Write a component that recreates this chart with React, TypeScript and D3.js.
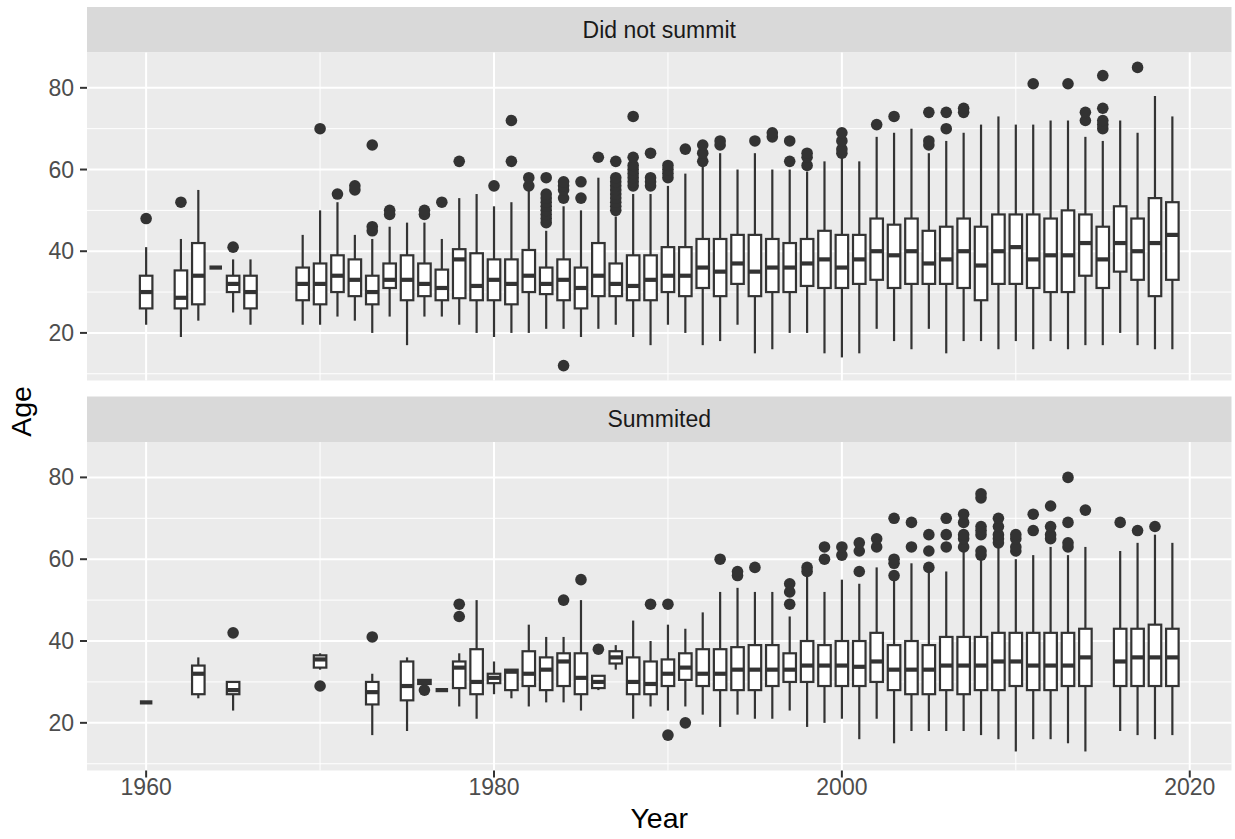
import React from 'react';
import * as d3 from 'd3';

// ---- data: "Did not summit" panel ----
const yearsNS = [1960, 1962, 1963, 1964, 1965, 1966, 1969, 1970, 1971, 1972, 1973, 1974, 1975, 1976, 1977, 1978, 1979,
  1980, 1981, 1982, 1983, 1984, 1985, 1986, 1987, 1988, 1989, 1990, 1991, 1992, 1993, 1994, 1995, 1996, 1997, 1998, 1999,
  2000, 2001, 2002, 2003, 2004, 2005, 2006, 2007, 2008, 2009, 2010, 2011, 2012, 2013, 2014, 2015, 2016, 2017, 2018, 2019];
const lowNS = [22, 19, 23, 36, 25, 22, 22, 22, 24, 23, 20, 24, 17, 24, 24, 22, 20,
  19, 20, 20, 21, 21, 19, 21, 22, 19, 17, 22, 20, 17, 18, 22, 15, 16, 20, 20, 15,
  14, 15, 21, 18, 16, 21, 15, 18, 18, 16, 18, 16, 18, 16, 17, 17, 20, 17, 16, 16];
const q1NS = [26, 26, 27, 36, 30, 26, 28, 27, 30, 29, 27, 31, 28, 29, 28, 28.5, 28,
  28, 27, 30, 29.5, 28, 26, 29, 29, 28, 28, 30, 29, 31, 29, 32, 29, 30, 30, 31.5, 31,
  31, 32, 33, 31, 32, 32, 32, 31, 28, 32, 32, 31, 30, 30, 34, 31, 35, 33, 29, 33];
const medNS = [30, 28.6, 34, 36, 32, 30, 32, 32, 34, 33, 30, 33, 33, 32, 31, 38, 31.5,
  33, 32, 34, 32, 33, 31, 34, 32, 31.5, 33, 34, 34, 36, 35, 37, 35, 36, 36, 37, 38,
  36, 38, 40, 39, 40, 37, 38, 40, 36.5, 40, 41, 38, 39, 39, 42, 38, 42, 40, 42, 44];
const q3NS = [34, 35.3, 42, 36, 34, 34, 36, 37, 39, 38, 34, 37, 39, 37, 35.5, 40.5, 39.5,
  38, 38, 40.3, 36, 38, 36, 42, 37, 39, 39, 41, 41, 43, 43, 44, 44, 43, 42, 43, 45,
  44, 44, 48, 46.5, 48, 45, 46, 48, 46, 49, 49, 49, 48, 50, 49, 46, 51, 48, 53, 52];
const highNS = [41, 43, 55, 36, 38, 38, 44, 50, 52, 44, 43, 46, 47, 47, 43, 53, 54,
  51, 52, 55, 45, 51, 50, 58, 48.5, 54, 54, 56, 59, 61, 64, 60, 64, 60, 60, 59.5, 62,
  63, 62, 68, 69, 70, 64, 67, 69, 71, 73, 71, 71, 72, 72, 68, 67, 72, 69, 78, 73];
const outNS = [[48], [52], [], [], [41], [], [], [70], [54], [55, 56], [45, 46, 66], [49, 50], [], [49, 50], [52], [62], [],
  [56], [62, 72], [56, 58], [47, 48, 49, 50, 51, 52, 53, 54, 58], [12, 53, 55, 56, 57], [53, 57], [63],
  [50, 51, 52, 53, 54, 55, 56, 57, 58, 62], [56, 57, 58, 59, 60, 61, 63, 73], [56, 57, 58, 64], [58, 59, 60, 61], [65],
  [62, 64, 66], [66, 67], [], [67], [68, 69], [62, 67], [61, 63, 64], [],
  [64, 65, 67, 69], [], [71], [73], [], [66, 67, 74], [70, 74], [74, 75], [], [], [], [81], [], [81], [72, 74],
  [70, 71, 72, 75, 83], [], [85], [], []];

// ---- data: "Summited" panel ----
const yearsS = [1960, 1963, 1965, 1970, 1973, 1975, 1976, 1977, 1978, 1979, 1980, 1981, 1982, 1983, 1984, 1985, 1986,
  1987, 1988, 1989, 1990, 1991, 1992, 1993, 1994, 1995, 1996, 1997, 1998, 1999, 2000, 2001, 2002, 2003, 2004, 2005,
  2006, 2007, 2008, 2009, 2010, 2011, 2012, 2013, 2014, 2016, 2017, 2018, 2019];
const lowS = [25, 26, 23, 33, 17, 18, 29.5, 28, 24, 21, 27, 26, 24, 25, 25, 23, 28,
  33, 21, 24, 23, 24, 22, 19, 22, 21, 21, 23, 19, 20, 21, 16, 21, 15, 18, 18,
  18, 18, 17, 16, 13, 16, 16, 15, 13, 18, 17, 16, 17];
const q1S = [25, 27, 27, 33.5, 24.5, 25.5, 29.5, 28, 28.5, 27, 29.7, 28, 29, 28, 29, 27, 28.5,
  34.5, 27, 27, 29, 30.5, 29, 28, 28, 28, 29, 30, 30, 29, 29, 29, 30, 28, 27, 27,
  28, 27, 28, 28, 29, 28, 28, 29, 29, 29, 29, 29, 29];
const medS = [25, 32, 28, 35.5, 27.5, 29, 30, 28, 33.5, 30, 31, 32.5, 32, 33, 35, 31, 30,
  36, 30, 29.5, 32, 33.5, 32, 32, 33, 33, 33, 33, 34, 34, 34, 33.7, 35, 33, 33, 33,
  34, 34, 34, 35, 35, 34, 34, 34, 36, 35, 36, 36, 36];
const q3S = [25, 34, 30, 36.5, 30, 35, 30.5, 28, 35, 38, 32, 33, 37.5, 36, 37, 37, 31.5,
  37.5, 36, 35, 35.5, 37, 38, 38, 38.5, 39, 39, 37, 40, 39, 40, 40, 42, 39, 40, 39,
  41, 41, 41, 42, 42, 42, 42, 42, 43, 43, 43, 44, 43];
const highS = [25, 36, 30, 37, 32, 36, 30.5, 28, 37, 50, 35, 33, 44, 41, 41, 50, 31.5,
  39, 45, 40, 44, 43, 47, 52, 53, 52, 52, 46, 56, 52, 55, 54, 58, 55, 59, 57,
  57, 62, 60, 63, 60, 61, 63, 61, 63, 62, 64, 66, 64];
const outS = [[], [], [42], [29], [41], [], [28], [], [46, 49], [], [], [], [], [], [50], [55], [38],
  [], [], [49], [17, 49], [20], [], [60], [56, 57], [58], [], [49, 52, 54], [57, 58], [60, 63], [61, 63],
  [57, 62, 64], [63, 65], [56, 59, 60, 70], [63, 69], [58, 62, 66],
  [63, 66, 70], [63, 65, 66, 69, 71], [61, 62, 66, 67, 68, 75, 76], [64, 65, 66, 68, 70], [62, 63, 65, 66],
  [67, 71], [65, 66, 68, 73], [63, 64, 69, 80], [72], [69], [67], [68], []];

const facetLabels = ['Did not summit', 'Summited'];
const xTicks = [1960, 1980, 2000, 2020];
const xMinor = [1970, 1990, 2010];
const yTicks = [20, 40, 60, 80];
const yMinor = [10, 30, 50, 70];

const W = 1235;
const H = 839;
const panelLeft = 87;
const panelRight = 1231.5;
const panels = [
  { stripTop: 7, top: 52.5, bottom: 380.5 },
  { stripTop: 396.5, top: 442, bottom: 770.5 },
];
const FONT = '"Liberation Sans", Arial, Helvetica, sans-serif';
const ink = '#333333';
const boxHalf = 0.36;
const smallSize = 23;
const titleSize = 28.5;

const x = d3.scaleLinear().domain([1956.6, 2022.4]).range([panelLeft, panelRight]);

function buildBoxes(years, low, q1, med, q3, high, outs) {
  return years.map((yr, i) => ({ year: yr, low: low[i], q1: q1[i], med: med[i], q3: q3[i], high: high[i], out: outs[i] }));
}

const panelData = [
  buildBoxes(yearsNS, lowNS, q1NS, medNS, q3NS, highNS, outNS),
  buildBoxes(yearsS, lowS, q1S, medS, q3S, highS, outS),
];

const Panel = ({ idx }) => {
  const p = panels[idx];
  const y = d3.scaleLinear().domain([8.35, 88.65]).range([p.bottom, p.top]);
  const boxes = panelData[idx];
  return (
    <g>
      <rect x={panelLeft} y={p.stripTop} width={panelRight - panelLeft} height={p.top - p.stripTop} fill="#D9D9D9" />
      <text x={(panelLeft + panelRight) / 2} y={(p.stripTop + p.top) / 2} dy="0.35em" textAnchor="middle"
        fontSize={smallSize} fill="#1A1A1A" fontFamily={FONT}>{facetLabels[idx]}</text>
      <rect x={panelLeft} y={p.top} width={panelRight - panelLeft} height={p.bottom - p.top} fill="#EBEBEB" />
      {yMinor.map(v => (
        <line key={'ym' + v} x1={panelLeft} x2={panelRight} y1={y(v)} y2={y(v)} stroke="#fff" strokeWidth={1} />
      ))}
      {xMinor.map(v => (
        <line key={'xm' + v} x1={x(v)} x2={x(v)} y1={p.top} y2={p.bottom} stroke="#fff" strokeWidth={1} />
      ))}
      {yTicks.map(v => (
        <line key={'yM' + v} x1={panelLeft} x2={panelRight} y1={y(v)} y2={y(v)} stroke="#fff" strokeWidth={2} />
      ))}
      {xTicks.map(v => (
        <line key={'xM' + v} x1={x(v)} x2={x(v)} y1={p.top} y2={p.bottom} stroke="#fff" strokeWidth={2} />
      ))}
      {boxes.map(b => {
        const x0 = x(b.year - boxHalf);
        const x1 = x(b.year + boxHalf);
        const cx = x(b.year);
        return (
          <g key={b.year}>
            <line x1={cx} x2={cx} y1={y(b.q3)} y2={y(b.high)} stroke={ink} strokeWidth={2.2} />
            <line x1={cx} x2={cx} y1={y(b.q1)} y2={y(b.low)} stroke={ink} strokeWidth={2.2} />
            <rect x={x0} y={y(b.q3)} width={x1 - x0} height={Math.max(0, y(b.q1) - y(b.q3))}
              fill="#fff" stroke={ink} strokeWidth={2.2} />
            <line x1={x0} x2={x1} y1={y(b.med)} y2={y(b.med)} stroke={ink} strokeWidth={4.2} />
            {b.out.map((o, j) => (
              <circle key={j} cx={cx} cy={y(o)} r={5.8} fill={ink} />
            ))}
          </g>
        );
      })}
      {yTicks.map(v => (
        <g key={'yt' + v}>
          <line x1={panelLeft - 7} x2={panelLeft} y1={y(v)} y2={y(v)} stroke={ink} strokeWidth={2} />
          <text x={panelLeft - 13} y={y(v)} dy="0.35em" textAnchor="end" fontSize={smallSize} fill="#4D4D4D"
            fontFamily={FONT}>{v}</text>
        </g>
      ))}
    </g>
  );
};

export default function App() {
  const bottom = panels[1].bottom;
  return (
    <div style={{ position: 'absolute', left: 0, top: 0 }}>
      <svg width={W} height={H} style={{ display: 'block', background: '#fff' }}>
        <Panel idx={0} />
        <Panel idx={1} />
        {xTicks.map(v => (
          <g key={'xt' + v}>
            <line x1={x(v)} x2={x(v)} y1={bottom} y2={bottom + 7} stroke={ink} strokeWidth={2} />
            <text x={x(v)} y={bottom + 24} textAnchor="middle" fontSize={smallSize} fill="#4D4D4D"
              fontFamily={FONT}>{v}</text>
          </g>
        ))}
        <text x={(panelLeft + panelRight) / 2} y={828} textAnchor="middle" fontSize={titleSize} fill="#000"
          fontFamily={FONT}>Year</text>
        <text transform={`translate(31,${(panels[0].top + bottom) / 2}) rotate(-90)`} textAnchor="middle"
          fontSize={titleSize} fill="#000" fontFamily={FONT}>Age</text>
      </svg>
    </div>
  );
}
